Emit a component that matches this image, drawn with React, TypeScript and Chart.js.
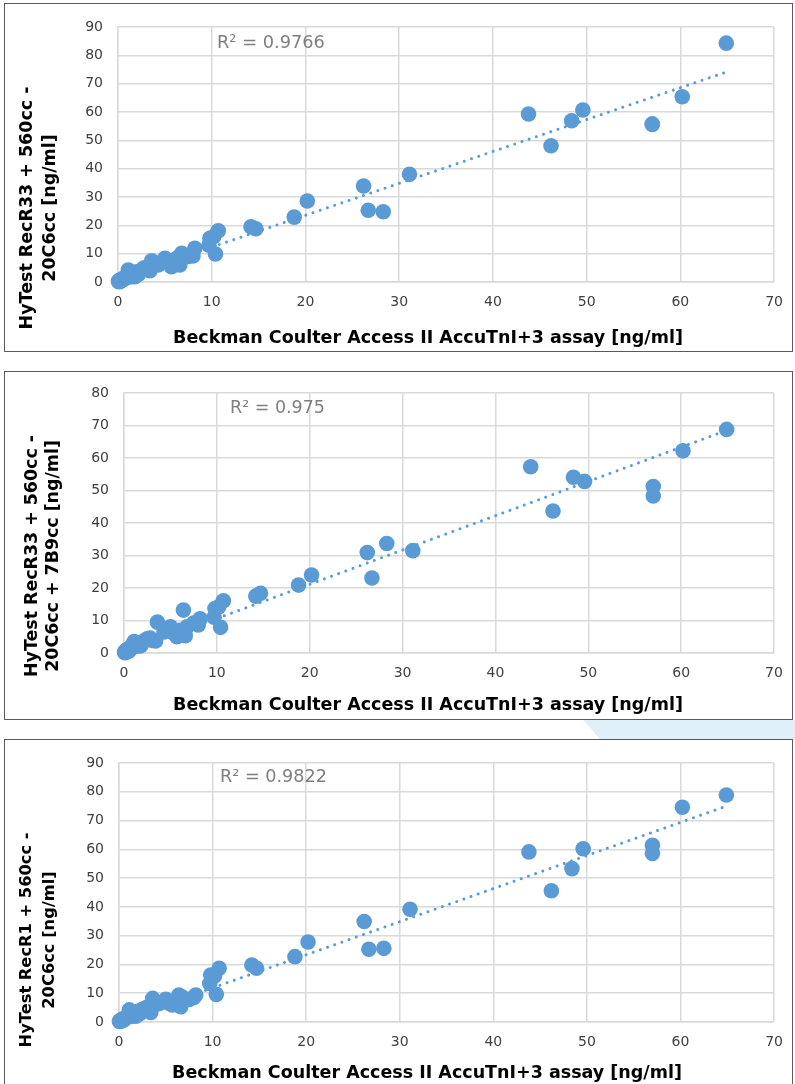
import React, { useEffect, useRef } from "react";
import { Chart, registerables } from "chart.js";

Chart.register(...registerables);

// Shared x values: Beckman Coulter Access II AccuTnI+3 assay [ng/ml]
const X_VALUES = [
  0.05, 0.1, 0.2, 0.3, 0.4, 0.5, 0.6, 0.8, 1.0, 1.1, 1.3, 1.5, 1.8, 2.0, 2.2, 2.5, 2.8, 3.0, 3.4, 3.6,
  4.3, 5.0, 5.3, 5.7, 6.0, 6.4, 6.6, 6.8, 7.5, 8.0, 8.2, 9.7, 9.8, 10.2, 10.4, 10.7, 14.2, 14.7, 18.8, 20.2,
  26.2, 26.7, 28.3, 31.1, 43.8, 46.2, 48.4, 49.6, 57.0, 57.0, 60.2, 64.9,
];

// HyTest RecR33 + 560cc - 20C6cc
const Y_PANEL1 = [
  0.2, 0.5, 0.1, 0.8, 0.6, 1.2, 0.9, 1.5, 2.4, 4.2, 1.8, 3.0, 1.9, 3.6, 2.7, 4.2, 5.0, 4.5, 4.0, 7.5,
  6.0, 8.4, 6.8, 5.4, 7.8, 8.6, 6.0, 10.1, 9.0, 9.2, 11.9, 13.0, 15.4, 16.0, 9.9, 18.1, 19.5, 18.8, 22.9, 28.6,
  33.9, 25.3, 24.8, 38.0, 59.3, 48.1, 56.9, 60.7, 55.8, 55.6, 65.4, 84.3,
];

// HyTest RecR33 + 560cc - 20C6cc + 7B9cc
const Y_PANEL2 = [
  0.3, 0.1, 0.6, 1.0, 0.4, 1.3, 0.8, 1.9, 2.6, 3.5, 2.0, 2.8, 2.2, 3.3, 3.8, 4.4, 4.6, 3.9, 3.7, 9.5,
  6.5, 8.1, 6.2, 5.0, 7.0, 13.2, 5.3, 8.1, 9.2, 8.6, 10.5, 11.0, 13.7, 14.2, 7.9, 16.1, 17.5, 18.4, 20.9, 24.0,
  30.9, 23.1, 33.7, 31.5, 57.3, 43.7, 54.1, 52.8, 51.2, 48.3, 62.2, 68.8,
];

// HyTest RecR1 + 560cc - 20C6cc
const Y_PANEL3 = [
  0.2, 0.4, 0.3, 0.9, 0.5, 1.1, 1.0, 1.6, 2.5, 4.2, 1.9, 3.2, 2.0, 3.7, 2.9, 4.4, 4.8, 5.1, 3.3, 8.2,
  6.4, 7.9, 6.6, 5.9, 7.3, 9.4, 5.3, 8.6, 7.8, 8.5, 9.4, 13.4, 16.3, 16.0, 9.6, 18.7, 19.8, 18.7, 22.7, 27.8,
  34.9, 25.3, 25.6, 39.2, 59.1, 45.6, 53.3, 60.2, 61.4, 58.6, 74.6, 78.9,
];

// Linear trendline end points
const TREND_X = [0.05, 64.9];
const TREND_PANEL1 = [1.1, 74.1];
const TREND_PANEL2 = [0.1, 68.5];
const TREND_PANEL3 = [0.4, 75.0];

const R2_LABELS = ["R\u00B2 = 0.9766", "R\u00B2 = 0.975", "R\u00B2 = 0.9822"];
const Y_MAX = [90, 80, 90];
const X_TITLE = "Beckman Coulter Access II AccuTnI+3 assay [ng/ml]";
const Y_TITLES = [
  ["HyTest RecR33 + 560cc -", "20C6cc [ng/ml]"],
  ["HyTest RecR33 + 560cc -", "20C6cc + 7B9cc [ng/ml]"],
  ["HyTest RecR1 + 560cc -", "20C6cc [ng/ml]"],
];

const FONT = '"DejaVu Sans", "Open Sans", sans-serif';
const BLUE = "#5b9bd5";
const GRID = "#d9d9d9";

type Layout = {
  canvasTop: number;
  canvasH: number;
  pad: { top: number; left: number; right: number; bottom: number };
  r2x: number;
  r2y: number;
  r2w: number;
  xTitleX: number;
  xTitleY: number;
  xTitleW: number;
  yTitleX: number;
  yTitleY: number;
  yTitleW: number;
  yGap: number;
};

const LAYOUTS: Layout[] = [
  { canvasTop: 0, canvasH: 356, pad: { top: 27, left: 78, right: 19, bottom: 44 }, r2x: 217, r2y: 43, r2w: 108, xTitleX: 428, xTitleY: 338, xTitleW: 510, yTitleX: 27, yTitleY: 208, yTitleW: 243, yGap: 23 },
  { canvasTop: 360, canvasH: 360, pad: { top: 33, left: 84, right: 21, bottom: 37 }, r2x: 230, r2y: 48, r2w: 95, xTitleX: 428, xTitleY: 345, xTitleW: 510, yTitleX: 32, yTitleY: 196, yTitleW: 242, yGap: 21 },
  { canvasTop: 728, canvasH: 356, pad: { top: 35, left: 79, right: 20, bottom: 32 }, r2x: 220, r2y: 49, r2w: 107, xTitleX: 427, xTitleY: 345, xTitleW: 510, yTitleX: 27, yTitleY: 212, yTitleW: 215, yGap: 23 },
];

function fitFont(ctx: CanvasRenderingContext2D, text: string, weight: number, target: number) {
  ctx.font = `${weight} 16px ${FONT}`;
  const w = ctx.measureText(text).width;
  const size = (16 * target) / w;
  ctx.font = `${weight} ${size.toFixed(2)}px ${FONT}`;
}

function Panel({ idx, ys, trend }: { idx: number; ys: number[]; trend: number[] }) {
  const ref = useRef<HTMLCanvasElement | null>(null);
  const L = LAYOUTS[idx];
  useEffect(() => {
    if (!ref.current) return;
    const textPlugin = {
      id: "panelText" + idx,
      afterDraw(chart: any) {
        const ctx = chart.ctx as CanvasRenderingContext2D;
        ctx.save();
        ctx.textBaseline = "middle";
        fitFont(ctx, R2_LABELS[idx], 400, L.r2w);
        ctx.fillStyle = "#7f7f7f";
        ctx.textAlign = "left";
        ctx.fillText(R2_LABELS[idx], L.r2x, L.r2y);
        fitFont(ctx, X_TITLE, 700, L.xTitleW);
        ctx.fillStyle = "#000000";
        ctx.textAlign = "center";
        ctx.fillText(X_TITLE, L.xTitleX, L.xTitleY);
        fitFont(ctx, Y_TITLES[idx][0], 700, L.yTitleW);
        ctx.translate(L.yTitleX, L.yTitleY);
        ctx.rotate(-Math.PI / 2);
        Y_TITLES[idx].forEach((line, i) => ctx.fillText(line, 0, i * L.yGap));
        ctx.restore();
      },
    };
    const chart = new Chart(ref.current, {
      type: "scatter",
      data: {
        datasets: [
          {
            data: TREND_X.map((x, i) => ({ x, y: trend[i] })),
            showLine: true,
            pointRadius: 0,
            borderColor: BLUE,
            borderWidth: 3,
            borderDash: [0.01, 7.6],
            borderCapStyle: "round",
            order: 0,
            clip: false,
          } as any,
          {
            data: X_VALUES.map((x, i) => ({ x, y: ys[i] })),
            pointRadius: 7.8,
            pointHoverRadius: 7.8,
            backgroundColor: BLUE,
            borderWidth: 0,
            order: 1,
            clip: false,
          } as any,
        ],
      },
      options: {
        animation: false,
        responsive: false,
        events: [],
        layout: { padding: L.pad },
        plugins: { legend: { display: false }, tooltip: { enabled: false } },
        scales: {
          x: {
            type: "linear",
            min: 0,
            max: 70,
            ticks: { stepSize: 10, color: "#404040", font: { family: FONT, size: 14 }, padding: 12 },
            grid: { color: GRID, lineWidth: 1.5, drawTicks: false },
            border: { color: GRID, width: 1.5 },
            afterFit: (s: any) => { s.height = 30; },
          },
          y: {
            min: 0,
            max: Y_MAX[idx],
            ticks: { stepSize: 10, color: "#404040", font: { family: FONT, size: 14 }, padding: 15 },
            grid: { color: GRID, lineWidth: 1.5, drawTicks: false },
            border: { color: GRID, width: 1.5 },
            afterFit: (s: any) => { s.width = 40; },
          },
        },
      } as any,
      plugins: [textPlugin],
    });
    return () => chart.destroy();
  }, []);
  return (
    <canvas
      ref={ref}
      width={795}
      height={L.canvasH}
      style={{ position: "absolute", left: 0, top: L.canvasTop, width: 795, height: L.canvasH }}
    />
  );
}

export default function App() {
  const box = (top: number, height: number) => ({
    position: "absolute" as const,
    left: 4,
    top,
    width: 789,
    height,
    border: "1px solid #5a5a5a",
    boxSizing: "border-box" as const,
  });
  return (
    <div style={{ position: "absolute", left: 0, top: 0, width: 795, height: 1084, overflow: "hidden", background: "#fff" }}>
      <div
        style={{
          position: "absolute",
          left: 583,
          top: 720,
          width: 212,
          height: 19,
          background: "#dff0f9",
          clipPath: "polygon(0 0, 100% 0, 100% 100%, 17px 100%)",
        }}
      />
      <div style={box(3, 349)} />
      <div style={box(371, 349)} />
      <div style={box(739, 360)} />
      <Panel idx={0} ys={Y_PANEL1} trend={TREND_PANEL1} />
      <Panel idx={1} ys={Y_PANEL2} trend={TREND_PANEL2} />
      <Panel idx={2} ys={Y_PANEL3} trend={TREND_PANEL3} />
    </div>
  );
}
